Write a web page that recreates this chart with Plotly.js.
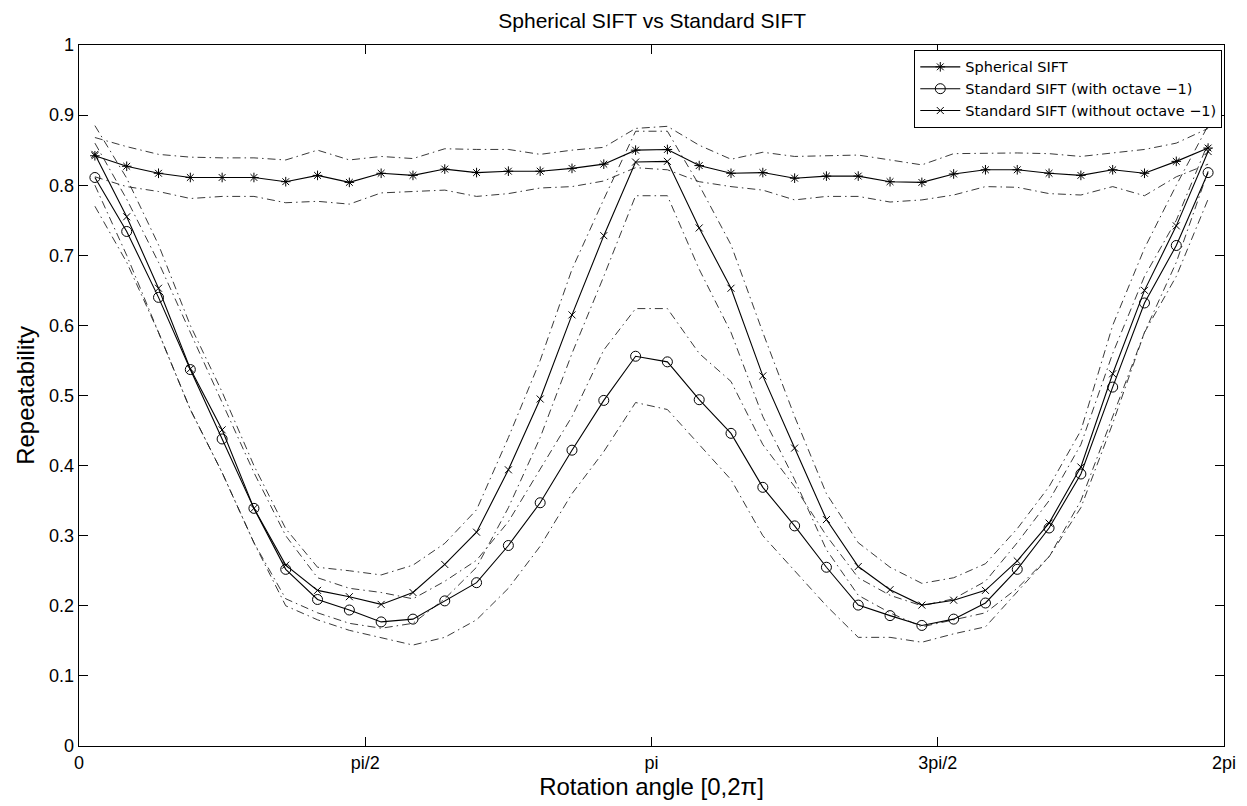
<!DOCTYPE html>
<html>
<head>
<meta charset="utf-8">
<script src="https://cdn.plot.ly/plotly-3.0.1.min.js"></script>
<style>html,body{margin:0;padding:0;background:#fff;}#chart{width:1247px;height:806px;}</style>
</head>
<body>
<div id="chart"></div>
<script>
// rotation angles (degrees) at which repeatability was measured
var angleDeg = [5,15,25,35,45,55,65,75,85,95,105,115,125,135,145,155,165,175,185,195,205,215,225,235,245,255,265,275,285,295,305,315,325,335,345,355];

var sphericalMean  = [0.842,0.827,0.817,0.811,0.811,0.811,0.805,0.814,0.804,0.817,0.814,0.823,0.818,0.820,0.820,0.824,0.830,0.850,0.851,0.828,0.817,0.818,0.810,0.813,0.813,0.805,0.804,0.816,0.822,0.822,0.817,0.814,0.822,0.817,0.834,0.853];
var sphericalUpper = [0.868,0.855,0.844,0.840,0.839,0.839,0.836,0.850,0.836,0.841,0.838,0.852,0.851,0.851,0.844,0.850,0.854,0.881,0.884,0.857,0.837,0.847,0.841,0.842,0.843,0.836,0.829,0.845,0.846,0.846,0.845,0.841,0.846,0.851,0.860,0.881];
var sphericalLower = [0.812,0.798,0.791,0.781,0.784,0.784,0.775,0.777,0.773,0.789,0.791,0.793,0.784,0.788,0.796,0.798,0.806,0.825,0.822,0.805,0.798,0.793,0.779,0.784,0.784,0.776,0.779,0.786,0.798,0.797,0.788,0.786,0.798,0.785,0.812,0.830];

var withOctMean  = [0.811,0.734,0.640,0.537,0.438,0.339,0.252,0.209,0.194,0.177,0.181,0.207,0.233,0.286,0.347,0.422,0.493,0.556,0.548,0.494,0.446,0.369,0.314,0.255,0.201,0.186,0.172,0.181,0.204,0.252,0.311,0.388,0.512,0.632,0.714,0.818];
var withOctUpper = [0.860,0.780,0.690,0.590,0.490,0.390,0.300,0.240,0.225,0.219,0.210,0.235,0.265,0.320,0.395,0.470,0.565,0.624,0.624,0.560,0.520,0.430,0.370,0.300,0.240,0.215,0.200,0.210,0.235,0.290,0.350,0.430,0.560,0.670,0.750,0.860];
var withOctLower = [0.770,0.690,0.590,0.480,0.390,0.290,0.200,0.180,0.165,0.155,0.144,0.155,0.180,0.225,0.285,0.360,0.420,0.490,0.480,0.430,0.380,0.300,0.250,0.200,0.155,0.155,0.148,0.160,0.170,0.220,0.270,0.340,0.460,0.590,0.670,0.780];

var withoutOctMean  = [0.844,0.755,0.653,0.538,0.451,0.339,0.258,0.222,0.213,0.202,0.219,0.259,0.305,0.394,0.495,0.615,0.728,0.833,0.834,0.739,0.653,0.528,0.425,0.323,0.256,0.223,0.201,0.208,0.222,0.264,0.318,0.398,0.531,0.650,0.742,0.848];
var withoutOctUpper = [0.885,0.810,0.715,0.600,0.505,0.400,0.310,0.255,0.250,0.244,0.258,0.289,0.337,0.440,0.550,0.680,0.780,0.877,0.877,0.800,0.715,0.590,0.470,0.360,0.290,0.255,0.232,0.240,0.260,0.310,0.370,0.450,0.600,0.710,0.800,0.885];
var withoutOctLower = [0.800,0.700,0.590,0.480,0.390,0.290,0.210,0.190,0.175,0.168,0.175,0.210,0.255,0.340,0.440,0.560,0.670,0.785,0.785,0.680,0.590,0.470,0.380,0.280,0.215,0.190,0.170,0.180,0.190,0.225,0.270,0.350,0.470,0.590,0.690,0.820];

var seriesNames = ['Spherical SIFT','Standard SIFT (with octave \u22121)','Standard SIFT (without octave \u22121)'];
var tickVals = [0, Math.PI/2, Math.PI, 3*Math.PI/2, 2*Math.PI];
var tickText = ['0','pi/2','pi','3pi/2','2pi'];

var x = angleDeg.map(function(d){ return d*Math.PI/180; });
var BOUND_DASH = '8px,4px,1.5px,4px';

function bound(y){
  return {x:x, y:y, mode:'lines', showlegend:false, hoverinfo:'skip',
    line:{color:'#222', width:0.9, dash:BOUND_DASH}};
}
function main(y, name, sym, size){
  return {x:x, y:y, name:name, mode:'lines+markers',
    line:{color:'#000', width:1.1},
    marker:{symbol:sym, size:size, color:'#000', line:{color:'#000', width:1}}};
}

var data = [
  bound(sphericalUpper), bound(sphericalLower),
  bound(withOctUpper), bound(withOctLower),
  bound(withoutOctUpper), bound(withoutOctLower),
  main(sphericalMean, seriesNames[0], 'asterisk-open', 8),
  main(withOctMean, seriesNames[1], 'circle-open', 10),
  main(withoutOctMean, seriesNames[2], 'x-thin-open', 7)
];

var FF = 'Liberation Sans, Arial, Helvetica, sans-serif';

var layout = {
  width:1247, height:806,
  margin:{l:79, r:23, t:45, b:60},
  paper_bgcolor:'#fff', plot_bgcolor:'#fff',
  font:{family:FF, color:'#000', size:18},
  title:{text:'Spherical SIFT vs Standard SIFT', x:0.523, xanchor:'center', y:0.974, yanchor:'middle', font:{family:FF, size:21, color:'#000'}},
  xaxis:{range:[0, 2*Math.PI], tickvals:tickVals, ticktext:tickText,
    showgrid:false, zeroline:false, showline:true, mirror:'ticks', linecolor:'#000', linewidth:1.3,
    ticks:'inside', ticklen:9, tickcolor:'#000', tickwidth:1,
    tickfont:{family:FF, size:18, color:'#000'},
    title:{text:'Rotation angle [0,2\u03c0]', font:{family:FF, size:24, color:'#000'}, standoff:5}},
  yaxis:{range:[0,1], dtick:0.1, tick0:0,
    showgrid:false, zeroline:false, showline:true, mirror:'ticks', linecolor:'#000', linewidth:1.3,
    ticks:'inside', ticklen:9, tickcolor:'#000', tickwidth:1,
    tickfont:{family:FF, size:18, color:'#000'},
    title:{text:'Repeatability', font:{family:FF, size:24, color:'#000'}, standoff:7}},
  legend:{x:0.9985, xanchor:'right', y:0.993, yanchor:'top', bgcolor:'#fff', bordercolor:'#000', borderwidth:1,
    font:{family:'DejaVu Sans, sans-serif', size:14.5, color:'#000'}, tracegroupgap:0, itemwidth:40},
  showlegend:true
};

Plotly.newPlot('chart', data, layout, {displayModeBar:false, staticPlot:true});
</script>
</body>
</html>
